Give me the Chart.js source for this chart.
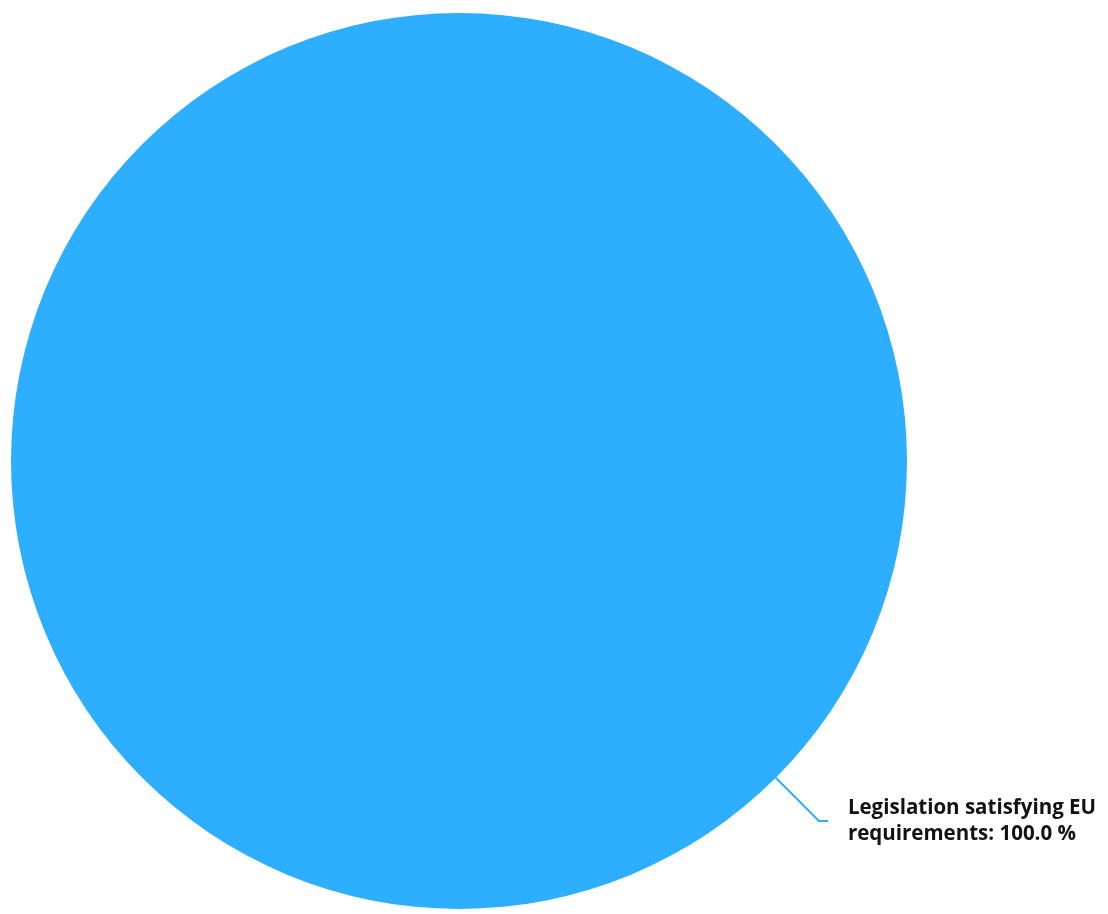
<!DOCTYPE html>
<html>
<head>
<meta charset="utf-8">
<script src="https://cdn.jsdelivr.net/npm/chart.js@4/dist/chart.umd.min.js"></script>
<style>
  html, body { margin: 0; padding: 0; background: #fff; }
  #wrap { width: 1108px; height: 914px; }
</style>
</head>
<body>
<div id="wrap"><canvas id="chart"></canvas></div>
<script>
const categories = ["Legislation satisfying EU requirements"];
const shares = [100.0];
const labelLines = [["Legislation satisfying EU", "requirements: 100.0 %"]];
const sliceColors = ["rgb(46, 174, 255)"];

// draws the callout line + label outside the slice
const calloutPlugin = {
  id: "callout",
  afterDatasetsDraw(chart) {
    const { ctx } = chart;
    const meta = chart.getDatasetMeta(0);
    meta.data.forEach((arc, i) => {
      const angle = Math.PI / 4;
      const r = arc.outerRadius;
      const x0 = arc.x + Math.cos(angle) * r;
      const y0 = arc.y + Math.sin(angle) * r;
      const x1 = arc.x + Math.cos(angle) * (r + 61);
      const y1 = arc.y + Math.sin(angle) * (r + 61);
      const x2 = x1 + 9;
      ctx.save();
      ctx.strokeStyle = sliceColors[i];
      ctx.lineWidth = 2;
      ctx.beginPath();
      ctx.moveTo(x0, y0);
      ctx.lineTo(x1, y1);
      ctx.lineTo(x2, y1);
      ctx.stroke();

      ctx.fillStyle = "#111";
      ctx.font = "bold 20.5px 'Open Sans', sans-serif";
      ctx.textAlign = "left";
      ctx.textBaseline = "middle";
      const lines = labelLines[i];
      const lh = 26;
      lines.forEach((t, k) => {
        ctx.fillText(t, x2 + 20, y1 - 13 + k * lh);
      });
      ctx.restore();
    });
  },
};

new Chart(document.getElementById("chart"), {
  type: "pie",
  data: {
    labels: categories,
    datasets: [{
      data: shares,
      backgroundColor: sliceColors,
      borderWidth: 0,
    }],
  },
  options: {
    responsive: true,
    maintainAspectRatio: false,
    animation: false,
    layout: {
      padding: { left: 11, right: 201, top: 13, bottom: 5 },
    },
    plugins: {
      legend: { display: false },
      tooltip: { enabled: false },
    },
  },
  plugins: [calloutPlugin],
});
</script>
</body>
</html>
